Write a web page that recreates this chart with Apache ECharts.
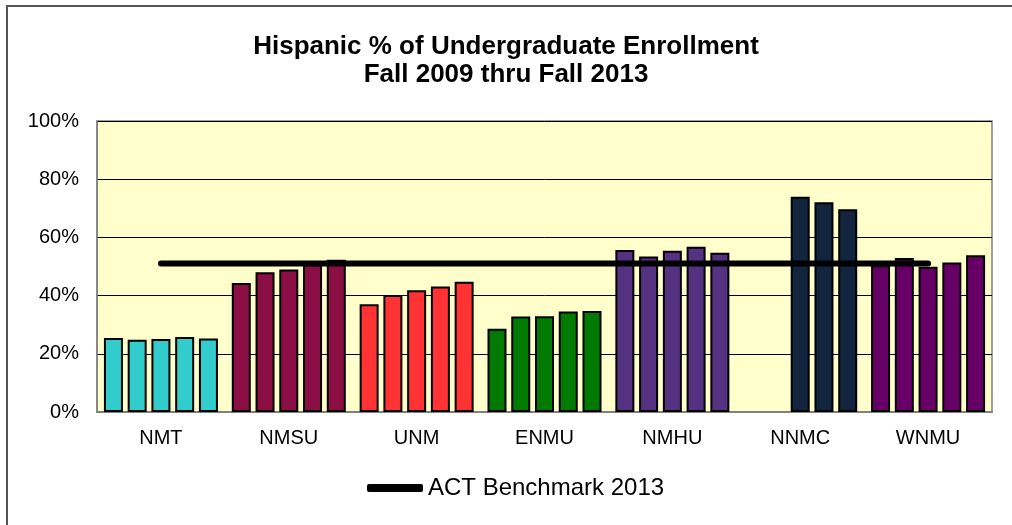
<!DOCTYPE html>
<html>
<head>
<meta charset="utf-8">
<script src="https://cdn.jsdelivr.net/npm/echarts@6/dist/echarts.min.js"></script>
<style>
  html, body { margin: 0; padding: 0; background: #fff; }
  #chart { width: 1012px; height: 525px; }
</style>
</head>
<body>
<div id="chart"></div>
<script>
// schools on the x axis
const schools = ["NMT", "NMSU", "UNM", "ENMU", "NMHU", "NNMC", "WNMU"];
const schoolColors = ["#33CCCC", "#8B0F45", "#FF3333", "#007A00", "#553182", "#13243F", "#660066"];

// Hispanic % by fall term (one array per year, one value per school)
const fall2009 = [25.4, 44.3, 37.0, 28.6, 55.7, null, 50.4];
const fall2010 = [24.8, 48.0, 40.2, 32.8, 53.4, null, 52.9];
const fall2011 = [25.1, 49.0, 41.8, 32.9, 55.4, 74.0, 49.9];
const fall2012 = [25.8, 50.8, 43.1, 34.5, 56.8, 72.1, 51.4];
const fall2013 = [25.3, 52.3, 44.8, 34.7, 54.7, 69.7, 53.9];

const benchmark = [51, 51, 51, 51, 51, 51, 51];
const yTicks = [0, 20, 40, 60, 80, 100];

const years = [fall2009, fall2010, fall2011, fall2012, fall2013];

const barSeries = years.map((vals, i) => ({
  name: "Fall " + (2009 + i),
  type: "bar",
  barWidth: 19,
  barGap: "25%",
  data: vals.map((v, j) => ({
    value: v,
    itemStyle: { color: schoolColors[j] },
  })),
  itemStyle: { borderColor: "#000", borderWidth: 2 },
  z: 2,
}));

const option = {
  animation: false,
  backgroundColor: "#fff",
  textStyle: { fontFamily: "Liberation Sans, Arial, sans-serif" },
  title: {
    text: "Hispanic % of Undergraduate Enrollment\nFall 2009 thru Fall 2013",
    left: "center",
    top: 28,
    textStyle: {
      fontSize: 26,
      fontWeight: "bold",
      color: "#000",
      lineHeight: 28,
      fontFamily: "Liberation Sans, Arial, sans-serif",
    },
  },
  graphic: [
    {
      type: "rect",
      shape: { x: 7, y: 6, width: 1100, height: 1000 },
      style: { fill: "none", stroke: "#555", lineWidth: 2 },
      silent: true,
    },
  ],
  legend: {
    data: ["ACT Benchmark 2013"],
    left: 367,
    top: 476,
    padding: 0,
    itemWidth: 56,
    itemHeight: 8,
    itemGap: 5,
    icon: "roundRect",
    textStyle: { fontSize: 24, color: "#000" },
  },
  grid: {
    left: 97,
    right: 20,
    top: 121,
    bottom: 113,
    show: true,
    backgroundColor: "#FFFFCC",
    borderColor: "#808080",
    borderWidth: 1.5,
  },
  xAxis: {
    type: "category",
    data: schools,
    axisLine: { lineStyle: { color: "#808080", width: 2 } },
    axisTick: { show: false },
    axisLabel: { fontSize: 20, color: "#000", margin: 16 },
  },
  yAxis: {
    type: "value",
    min: yTicks[0],
    max: yTicks[yTicks.length - 1],
    interval: 20,
    axisLine: { show: true, lineStyle: { color: "#808080", width: 1.5 } },
    axisTick: { show: false },
    axisLabel: { fontSize: 20, color: "#000", margin: 18, formatter: "{value}%" },
    splitLine: { lineStyle: { color: "#000", width: 1 } },
  },
  series: [
    ...barSeries,
    {
      name: "ACT Benchmark 2013",
      type: "line",
      data: benchmark,
      symbol: "none",
      color: "#000",
      lineStyle: { color: "#000", width: 6, cap: "round" },
      z: 5,
    },
  ],
};

const chart = echarts.init(document.getElementById("chart"));
chart.setOption(option);
</script>
</body>
</html>
